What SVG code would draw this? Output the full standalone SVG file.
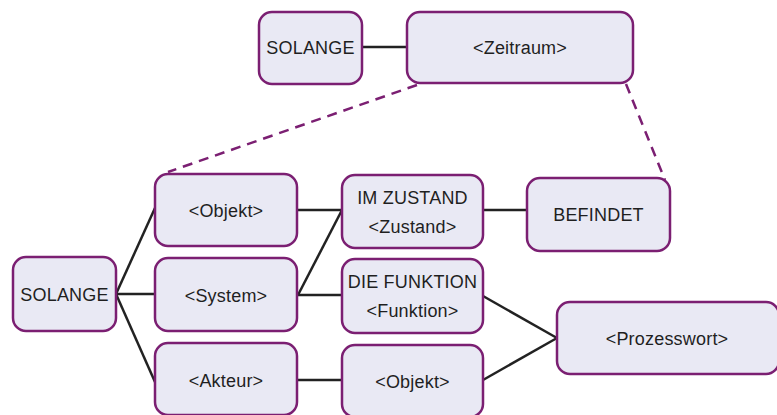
<svg xmlns="http://www.w3.org/2000/svg" width="777" height="415" viewBox="0 0 777 415">
<style>
.n{fill:#E9E9F4;stroke:#7B1F72;stroke-width:2.5}
.t{font-family:"Liberation Sans",Arial,sans-serif;font-size:18px;letter-spacing:0.2px;fill:#1f1f1f;text-anchor:middle;dominant-baseline:central}
.c{stroke:#222;stroke-width:2.5;fill:none}
.d{stroke:#7B1F72;stroke-width:2.5;fill:none;stroke-dasharray:10 7}
</style>
<rect width="777" height="415" fill="#fff"/>
<g id="connectors">
<line class="c" x1="362" y1="47" x2="407" y2="47"/>
<path class="d" d="M417 85 L168 172"/>
<path class="d" d="M626 84 L665 180"/>
<line class="c" x1="116" y1="294" x2="155" y2="208"/>
<line class="c" x1="116" y1="294" x2="155" y2="294"/>
<line class="c" x1="116" y1="294" x2="155" y2="382"/>
<line class="c" x1="297" y1="210" x2="342" y2="210"/>
<line class="c" x1="342" y1="210" x2="298" y2="295"/>
<line class="c" x1="298" y1="295" x2="342" y2="295"/>
<line class="c" x1="483" y1="210" x2="527" y2="210"/>
<line class="c" x1="483" y1="296" x2="557" y2="338"/>
<line class="c" x1="483" y1="380" x2="557" y2="338"/>
<line class="c" x1="297" y1="380" x2="342" y2="380"/>
</g>
<g id="n1"><rect class="n" x="259" y="12" width="103" height="72" rx="13"/><text class="t" x="310.5" y="48">SOLANGE</text></g>
<g id="n2"><rect class="n" x="407" y="12" width="226" height="71" rx="13"/><text class="t" x="520" y="48">&lt;Zeitraum&gt;</text></g>
<g id="n3"><rect class="n" x="13" y="257" width="103" height="74" rx="13"/><text class="t" x="64.5" y="295">SOLANGE</text></g>
<g id="n4"><rect class="n" x="155" y="174" width="142" height="72" rx="13"/><text class="t" x="226" y="211">&lt;Objekt&gt;</text></g>
<g id="n5"><rect class="n" x="155" y="258" width="142" height="73" rx="13"/><text class="t" x="226" y="296">&lt;System&gt;</text></g>
<g id="n6"><rect class="n" x="155" y="343" width="142" height="72" rx="13"/><text class="t" x="226" y="381">&lt;Akteur&gt;</text></g>
<g id="n7"><rect class="n" x="342" y="175" width="141" height="73" rx="13"/><text class="t" x="412.5" y="198">IM ZUSTAND</text><text class="t" x="412.5" y="227">&lt;Zustand&gt;</text></g>
<g id="n8"><rect class="n" x="527" y="178" width="143" height="73" rx="13"/><text class="t" x="598.5" y="215">BEFINDET</text></g>
<g id="n9"><rect class="n" x="342" y="259" width="141" height="74" rx="13"/><text class="t" x="412.5" y="282">DIE FUNKTION</text><text class="t" x="412.5" y="311">&lt;Funktion&gt;</text></g>
<g id="n10"><rect class="n" x="342" y="345" width="141" height="72" rx="13"/><text class="t" x="412.5" y="382">&lt;Objekt&gt;</text></g>
<g id="n11"><rect class="n" x="557" y="302" width="222" height="72" rx="13"/><text class="t" x="667" y="339">&lt;Prozesswort&gt;</text></g>
</svg>
